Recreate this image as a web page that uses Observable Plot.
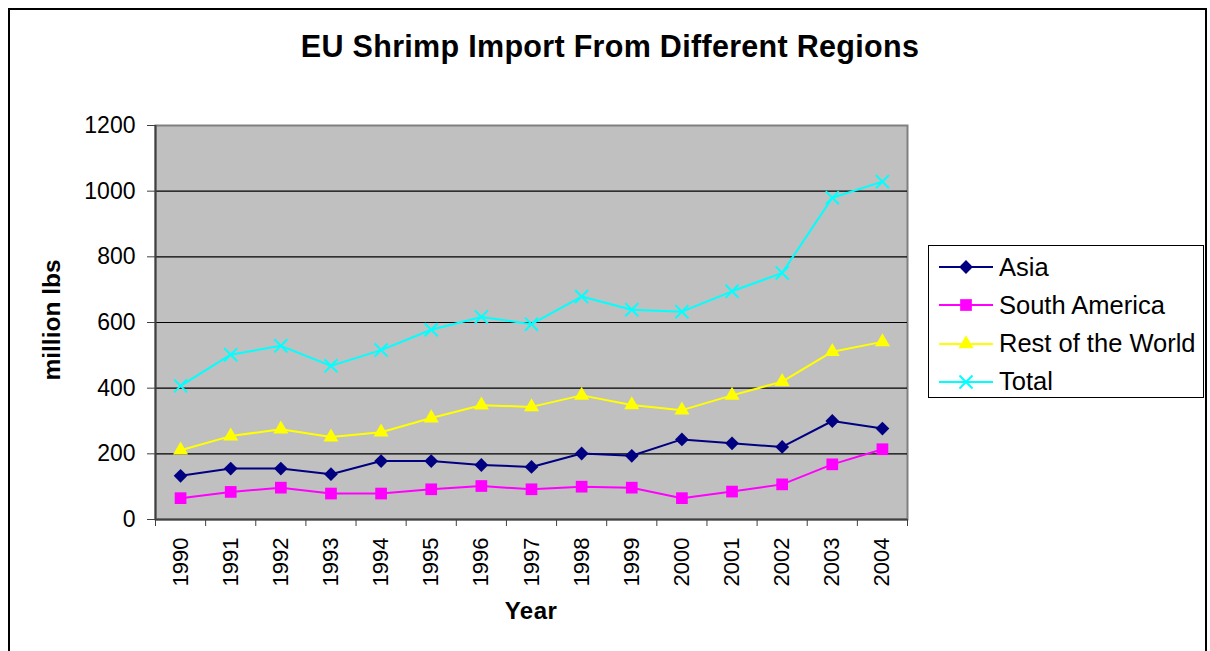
<!DOCTYPE html>
<html>
<head>
<meta charset="utf-8">
<script src="https://cdn.jsdelivr.net/npm/d3@7"></script>
<script src="https://cdn.jsdelivr.net/npm/@observablehq/plot@0.6"></script>
<style>
  html, body { margin: 0; padding: 0; background: #fff; overflow: hidden; }
  #wrap { position: relative; width: 1210px; height: 651px; font-family: "Liberation Sans", Arial, sans-serif; }
  #border { position: absolute; left: 8px; top: 8px; width: 1199px; height: 700px; border: 2px solid #000; box-sizing: border-box; }
  #chart { position: absolute; left: 0; top: 0; }
  #title { position: absolute; left: 0; width: 1220px; top: 29px; text-align: center; font-weight: bold; font-size: 30.5px; letter-spacing: 0.3px; }
  #ylabel { position: absolute; left: 52px; top: 320px; transform: translate(-50%, -50%) rotate(-90deg); font-weight: bold; font-size: 24.5px; white-space: nowrap; }
  #xlabel { position: absolute; left: 531px; top: 597px; transform: translateX(-50%); font-weight: bold; font-size: 24px; letter-spacing: 0.5px; }
  #legend { position: absolute; left: 928px; top: 245px; width: 276px; height: 153px; border: 1.5px solid #000; box-sizing: border-box; background: #fff; }
  .item { position: absolute; left: 8px; height: 30px; display: flex; align-items: center; font-size: 25.5px; white-space: nowrap; }
  .item svg { margin-right: 6px; }
</style>
</head>
<body>
<div id="wrap">
  <div id="border"></div>
  <div id="chart"></div>
  <div id="title">EU Shrimp Import From Different Regions</div>
  <div id="ylabel">million lbs</div>
  <div id="xlabel">Year</div>
  <div id="legend"></div>
</div>
<script>
const years = [1990,1991,1992,1993,1994,1995,1996,1997,1998,1999,2000,2001,2002,2003,2004];
const asia = [133,155,155,138,178,178,166,160,201,194,244,232,221,300,277];
const southAmerica = [65,84,97,79,79,92,102,92,100,97,65,85,107,168,214];
const restOfWorld = [211,254,275,251,266,309,348,343,378,349,333,378,420,511,541];
const total = [407,502,529,468,516,578,617,595,679,639,633,695,751,980,1029];
const yTicks = [0,200,400,600,800,1000,1200];
const seriesNames = ["Asia","South America","Rest of the World","Total"];

const seriesStyle = {
  "Asia": {color: "#000080", symbol: "diamond2", r: 6.2, filled: true},
  "South America": {color: "#ff00ff", symbol: "square", r: 6.6, filled: true},
  "Rest of the World": {color: "#ffff00", symbol: "triangle", r: 5.6, filled: true},
  "Total": {color: "#00ffff", symbol: "times", r: 6, filled: false}
};
const seriesValues = [asia, southAmerica, restOfWorld, total];
const data = seriesNames.flatMap((name, i) => years.map((yr, j) => ({series: name, year: yr, value: seriesValues[i][j]})));
const bounds = [...years.map(y => y - 0.5), years[years.length - 1] + 0.5];

const marks = [
  Plot.frame({fill: "#c0c0c0", stroke: "#808080", strokeWidth: 2}),
  Plot.gridY({ticks: yTicks.filter(t => t > 0 && t < 1200), stroke: "#000", strokeOpacity: 1, strokeWidth: 1.1}),
  Plot.ruleY([0], {stroke: "#404040", strokeWidth: 2}),
  Plot.ruleX([bounds[0]], {stroke: "#404040", strokeWidth: 2}),
  Plot.axisY({ticks: yTicks, tickSize: 8, tickPadding: 12, fontSize: 23, tickFormat: d => String(d), label: null, stroke: "#404040"}),
  Plot.axisX({ticks: bounds, tickSize: 7, tickFormat: () => "", label: null, stroke: "#404040"}),
  Plot.axisX({ticks: years, tickSize: 0, tickPadding: 18, tickRotate: -90, fontSize: 22, tickFormat: d => String(d), label: null})
];
for (const name of seriesNames) {
  const s = seriesStyle[name];
  const sub = data.filter(d => d.series === name);
  marks.push(Plot.line(sub, {x: "year", y: "value", stroke: s.color, strokeWidth: 2}));
  if (s.filled) {
    marks.push(Plot.dot(sub, {x: "year", y: "value", symbol: () => s.symbol, r: s.r, fill: s.color, stroke: "none"}));
  } else {
    marks.push(Plot.dot(sub, {x: "year", y: "value", symbol: () => s.symbol, r: s.r, fill: "none", stroke: s.color, strokeWidth: 2}));
  }
}

const chart = Plot.plot({
  width: 1210,
  height: 651,
  marginLeft: 155,
  marginRight: 303,
  marginTop: 125,
  marginBottom: 132,
  style: {background: "none", fontFamily: "Liberation Sans, Arial, sans-serif", color: "#000"},
  x: {type: "linear", domain: [bounds[0], bounds[bounds.length - 1]]},
  y: {domain: [0, 1200]},
  symbol: {type: "identity"},
  marks
});
document.getElementById("chart").appendChild(chart);

// legend
const legend = d3.select("#legend");
const symTypes = {diamond2: d3.symbolDiamond2, square: d3.symbolSquare, triangle: d3.symbolTriangle, times: d3.symbolTimes};
seriesNames.forEach((name, i) => {
  const s = seriesStyle[name];
  const item = legend.append("div").attr("class", "item").style("top", (6 + i * 38.3) + "px");
  const svg = item.append("svg").attr("width", 56).attr("height", 20);
  svg.append("line").attr("x1", 2).attr("x2", 56).attr("y1", 10).attr("y2", 10).attr("stroke", s.color).attr("stroke-width", 2);
  const path = d3.symbol(symTypes[s.symbol], s.r * s.r * Math.PI)();
  const p = svg.append("path").attr("d", path).attr("transform", "translate(29,10)");
  if (s.filled) p.attr("fill", s.color); else p.attr("fill", "none").attr("stroke", s.color).attr("stroke-width", 2);
  item.append("span").text(name);
});
</script>
</body>
</html>
